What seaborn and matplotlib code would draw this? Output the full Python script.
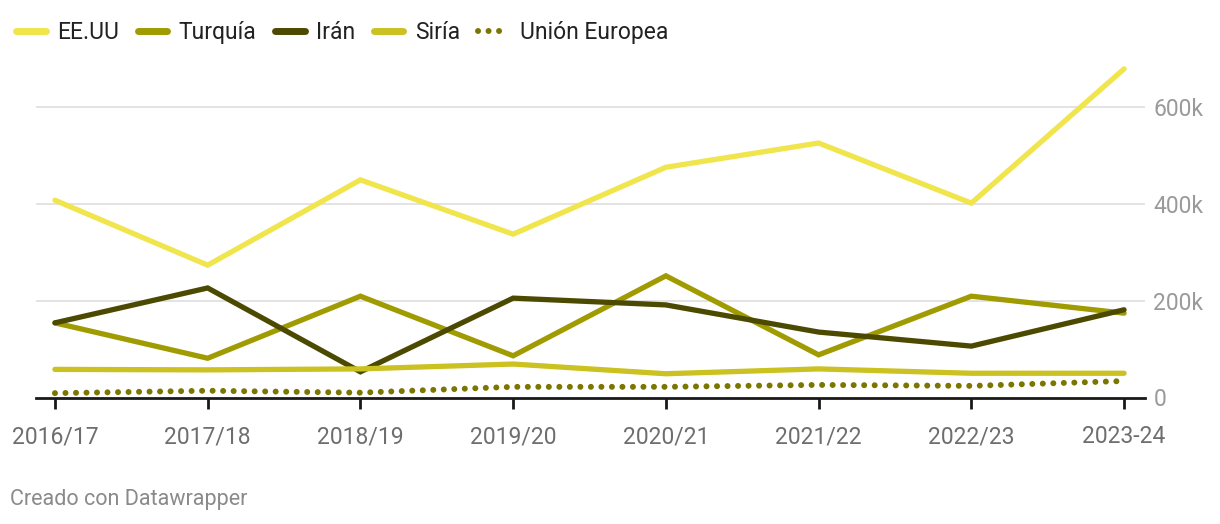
import matplotlib
matplotlib.use("Agg")
import matplotlib.pyplot as plt
import seaborn as sns
import pandas as pd
from matplotlib.lines import Line2D

categories = ["2016/17", "2017/18", "2018/19", "2019/20", "2020/21", "2021/22", "2022/23", "2023-24"]
eeuu = [407, 273, 449, 337, 475, 525, 401, 678]
turquia = [154, 81, 209, 86, 251, 88, 209, 174]
iran = [154, 226, 53, 205, 191, 135, 106, 181]
siria = [58, 57, 59, 69, 49, 59, 50, 50]
ue = [9, 14, 10, 22, 22, 26, 24, 34]
series_names = ["EE.UU", "Turquía", "Irán", "Siría", "Unión Europea"]
yticks = [0, 200, 400, 600]
ytick_labels = ["0", "200k", "400k", "600k"]

colors = ["#f0e54c", "#a09b00", "#4c4a00", "#cbc121", "#7b7600"]

sns.set_theme(style="white")
plt.rcParams["font.family"] = ["Roboto", "DejaVu Sans"]

fig = plt.figure(figsize=(12.2, 5.24), dpi=100)
ax = fig.add_axes([36/1220, (524-397.5)/524, (1145-36)/1220, 339.3/524])

x = list(range(len(categories)))
all_vals = [eeuu, turquia, iran, siria, ue]
for name, vals, c in zip(series_names, all_vals, colors):
    df = pd.DataFrame({"x": x, "y": vals})
    if name == "Unión Europea":
        sns.lineplot(data=df, x="x", y="y", ax=ax, color=c, linewidth=4.3,
                     linestyle=(0, (0.01, 1.75)), dash_capstyle="round", zorder=3)
    else:
        sns.lineplot(data=df, x="x", y="y", ax=ax, color=c, linewidth=3.8,
                     solid_capstyle="round", solid_joinstyle="miter", zorder=3)

ax.set_xlim(-0.124, len(categories) - 1 + 0.137)
ax.set_ylim(0, 700)
ax.set_xlabel("")
ax.set_ylabel("")

ax.set_yticks(yticks)
ax.set_yticklabels(ytick_labels)
ax.yaxis.tick_right()
ax.tick_params(axis="y", length=0, pad=6, labelsize=16.5, labelcolor="#9a9a9a")
for yv in yticks[1:]:
    ax.axhline(yv, color="#e3e3e3", linewidth=1.4, zorder=1)

ax.set_xticks(x)
ax.set_xticklabels(categories)
ax.tick_params(axis="x", length=8, width=2, color="#1a1a1a", pad=12,
               labelsize=16.5, labelcolor="#6e6e6e", direction="out")
ax.tick_params(axis="x", bottom=True)
ax.grid(False)
for s in ["top", "right", "left"]:
    ax.spines[s].set_visible(False)
ax.spines["bottom"].set_color("#1a1a1a")
ax.spines["bottom"].set_linewidth(2)
ax.spines["bottom"].set_zorder(2)

leg_handles = []
for name, c in zip(series_names, colors):
    if name == "Unión Europea":
        leg_handles.append(Line2D([0], [0], color=c, linewidth=4.3,
                                  linestyle=(0, (0.01, 1.75)), dash_capstyle="round"))
    else:
        leg_handles.append(Line2D([0], [0], color=c, linewidth=5, solid_capstyle="round"))
fig.legend(leg_handles, series_names, loc="upper left", bbox_to_anchor=(0.0, 0.99),
           ncol=5, frameon=False, fontsize=16.5, handlelength=1.3, handletextpad=0.5,
           columnspacing=0.8, labelcolor="#222222", borderaxespad=0.3)

fig.text(10/1220, 1 - 500/524, "Creado con Datawrapper", fontsize=15.5, color="#8a8a8a",
         va="center", ha="left")

fig.savefig("out.png", dpi=100, facecolor="white")
